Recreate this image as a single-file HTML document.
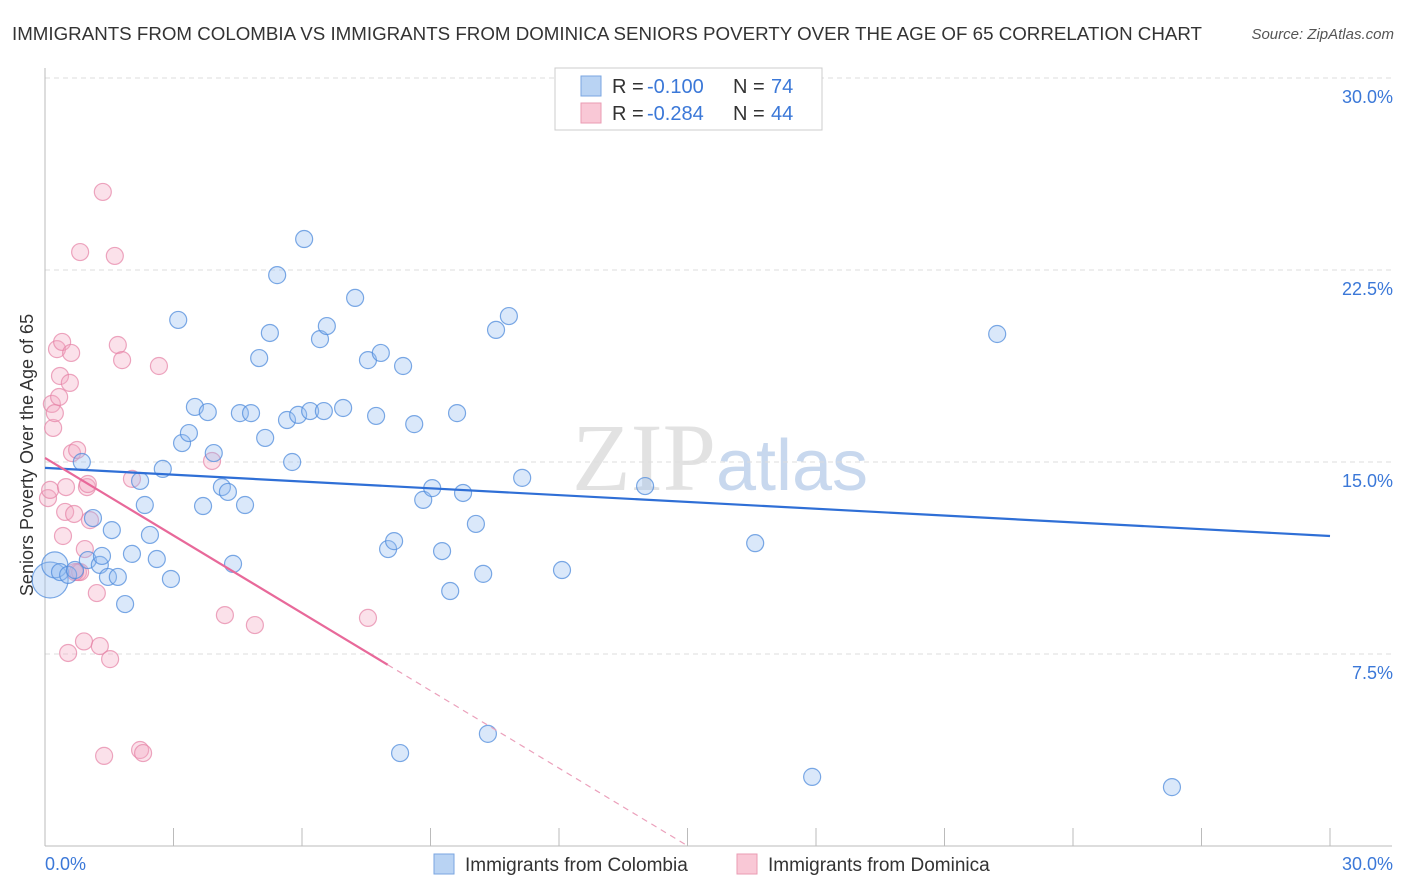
<!DOCTYPE html>
<html><head><meta charset="utf-8"><style>
body{margin:0;background:#fff;font-family:"Liberation Sans",sans-serif;}
#wrap{position:relative;width:1406px;height:892px;overflow:hidden}
</style></head><body>
<div id="wrap">
<svg id="svg" width="1406" height="892" xmlns="http://www.w3.org/2000/svg">
<text x="12" y="40" font-size="18" fill="#333" textLength="1190" lengthAdjust="spacingAndGlyphs">IMMIGRANTS FROM COLOMBIA VS IMMIGRANTS FROM DOMINICA SENIORS POVERTY OVER THE AGE OF 65 CORRELATION CHART</text>
<text x="1394" y="39" font-size="15" fill="#555" font-style="italic" text-anchor="end">Source: ZipAtlas.com</text>
<text x="33" y="455" font-size="18" fill="#333" text-anchor="middle" transform="rotate(-90 33 455)">Seniors Poverty Over the Age of 65</text>
<text x="720" y="490" font-size="96" fill="#e2e2e2" text-anchor="middle" font-family="Liberation Serif,serif">ZIP<tspan fill="#c8d8ee" font-family="Liberation Sans,sans-serif" font-size="72">atlas</tspan></text>
<g id="grid"></g><g id="axes"></g><g id="pts"></g><g id="trend"></g>
<g>
<rect x="555" y="68" width="267" height="62" fill="#fff" stroke="#ccc"/>
<rect x="581" y="76" width="20" height="20" fill="#b9d3f3" stroke="#7aa6e0"/>
<rect x="581" y="103" width="20" height="20" fill="#f9c8d6" stroke="#ea9bb3"/>
<text y="93" font-size="20" fill="#333"><tspan x="612">R =</tspan><tspan x="647" fill="#3b78d8">-0.100</tspan><tspan x="733">N =</tspan><tspan x="771" fill="#3b78d8">74</tspan></text>
<text y="120" font-size="20" fill="#333"><tspan x="612">R =</tspan><tspan x="647" fill="#3b78d8">-0.284</tspan><tspan x="733">N =</tspan><tspan x="771" fill="#3b78d8">44</tspan></text>
</g>
<g>
<rect x="434" y="854" width="20" height="20" fill="#b9d3f3" stroke="#7aa6e0"/>
<text x="465" y="871" font-size="19" fill="#333">Immigrants from Colombia</text>
<rect x="737" y="854" width="20" height="20" fill="#f9c8d6" stroke="#ea9bb3"/>
<text x="768" y="871" font-size="19" fill="#333">Immigrants from Dominica</text>
</g>
</svg></div>
<script>
const yTicks=[7.5,15,22.5,30];
const yTickLabels=["7.5%","15.0%","22.5%","30.0%"];
const xTickLabels=["0.0%","30.0%"];
const blueX=[0.12,0.23,0.35,0.54,0.70,0.86,1.00,1.12,1.28,1.33,1.47,1.56,1.70,1.87,2.03,2.22,2.33,2.45,2.61,2.75,2.94,3.11,3.20,3.36,3.50,3.69,3.80,3.94,4.13,4.27,4.39,4.55,4.67,4.81,5.00,5.14,5.25,5.42,5.65,5.77,5.91,6.05,6.19,6.42,6.51,6.58,6.96,7.24,7.54,7.73,7.84,8.01,8.15,8.36,8.29,8.62,8.83,9.04,9.27,9.46,9.62,9.76,10.06,10.23,10.34,10.53,10.83,11.14,12.07,14.01,16.58,17.91,22.23,26.31];
const blueY=[10.39,10.98,10.70,10.59,10.78,15.00,11.17,12.81,10.98,11.33,10.51,12.34,10.51,9.45,11.41,14.26,13.32,12.15,11.21,14.73,10.43,20.55,15.74,16.13,17.15,13.28,16.95,15.35,14.02,13.83,11.02,16.91,13.32,16.91,19.06,15.94,20.04,22.30,16.64,15.00,16.84,23.71,16.99,19.80,16.99,20.31,17.11,21.41,18.98,16.80,19.26,11.60,11.91,18.75,3.63,16.48,13.52,13.98,11.52,9.96,16.91,13.79,12.58,10.63,4.38,20.16,20.70,14.38,10.78,14.06,11.83,2.70,20.00,2.30];
const blueR=[18,13];
const pinkX=[0.07,0.12,0.16,0.19,0.23,0.28,0.33,0.35,0.40,0.47,0.42,0.49,0.54,0.58,0.61,0.63,0.68,0.75,0.77,0.82,0.91,0.93,0.98,1.00,1.05,1.21,1.28,1.35,1.52,1.63,1.70,1.80,1.38,2.03,2.22,2.29,2.66,3.90,4.20,4.90,7.54,0.82,0.70];
const pinkY=[13.59,13.91,17.27,16.33,16.91,19.41,17.54,18.36,19.69,13.05,12.11,14.02,7.54,18.09,19.26,15.35,12.97,15.47,10.70,23.20,7.99,11.60,14.02,14.14,12.73,9.88,7.81,25.55,7.30,23.05,19.57,18.98,3.52,14.34,3.75,3.63,18.75,15.04,9.02,8.63,8.91,10.70,10.70];
const X=v=>45+v*(1285/30), Y=v=>846-v*(768/30);
const NS="http://www.w3.org/2000/svg";
function mk(tag,attrs,parent){const e=document.createElementNS(NS,tag);for(const k in attrs)e.setAttribute(k,attrs[k]);parent.appendChild(e);return e;}
const grid=document.getElementById('grid'),axes=document.getElementById('axes'),pts=document.getElementById('pts'),trend=document.getElementById('trend');
yTicks.forEach((t,i)=>{
 const l=mk('line',{x1:45,x2:1392,y1:Y(t),y2:Y(t),stroke:'#ddd','stroke-dasharray':'5,4'},grid);
 
 
 const tx=mk('text',{x:1393,y:Y(t)+25,'font-size':18,fill:'#3b78d8','text-anchor':'end'},axes);
 tx.textContent=yTickLabels[i];
 
 
});
let a=mk('line',{x1:45,x2:45,y1:68,y2:846,stroke:'#bbb'},axes);


a=mk('line',{x1:45,x2:1392,y1:846,y2:846,stroke:'#bbb'},axes);


for(let i=1;i<=10;i++){const tk=mk('line',{x1:X(i*3),x2:X(i*3),y1:828,y2:846,stroke:'#bbb'},axes);
 
 }
let t0=mk('text',{x:45,y:870,'font-size':18,fill:'#3b78d8'},axes);t0.textContent=xTickLabels[0];


t0=mk('text',{x:1393,y:870,'font-size':18,fill:'#3b78d8','text-anchor':'end'},axes);t0.textContent=xTickLabels[1];


pinkX.forEach((v,i)=>{const c=mk('circle',{cx:X(v),cy:Y(pinkY[i]),r:8.5,fill:'rgba(244,170,195,0.35)',stroke:'rgba(230,130,165,0.7)','stroke-width':1.2},pts);
 
 });
blueX.forEach((v,i)=>{const c=mk('circle',{cx:X(v),cy:Y(blueY[i]),r:blueR[i]||8.5,fill:'rgba(150,190,240,0.35)',stroke:'rgba(80,140,220,0.75)','stroke-width':1.2},pts);
 
 });
const blueTrend=[14.77,12.11], pinkTrend=[15.16,-1.01], pinkSolidEnd=8.0;
let l=mk('line',{x1:X(0),y1:Y(blueTrend[0]),x2:X(30),y2:Y(blueTrend[1]),stroke:'#2f6fd6','stroke-width':2.2},trend);


const pf=x=>pinkTrend[0]+pinkTrend[1]*x, pz=-pinkTrend[0]/pinkTrend[1];
l=mk('line',{x1:X(0),y1:Y(pf(0)),x2:X(pinkSolidEnd),y2:Y(pf(pinkSolidEnd)),stroke:'#e8699a','stroke-width':2.2},trend);


l=mk('line',{x1:X(pinkSolidEnd),y1:Y(pf(pinkSolidEnd)),x2:X(pz),y2:Y(0),stroke:'#eba0bb','stroke-width':1.2,'stroke-dasharray':'6,5'},trend);


</script>
</body></html>
